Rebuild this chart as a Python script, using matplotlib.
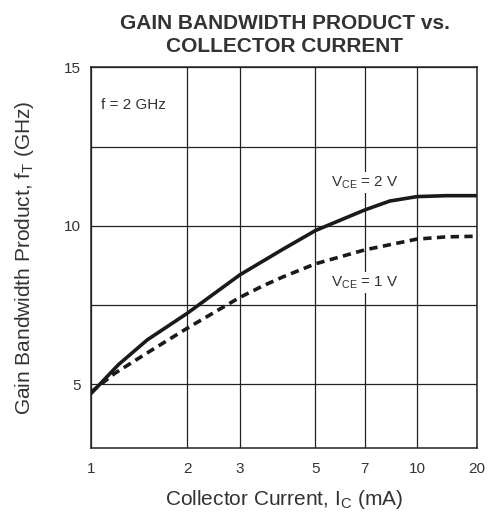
import numpy as np
import matplotlib
matplotlib.use('Agg')
import matplotlib.pyplot as plt

plt.rcParams['font.family'] = ['Liberation Sans', 'DejaVu Sans']
plt.rcParams['mathtext.fontset'] = 'custom'
plt.rcParams['mathtext.rm'] = 'Liberation Sans'

# ---- data ----
ic_2v = [1, 1.22, 1.5, 2, 3, 4, 5, 7, 8.3, 10, 14, 20]
ft_2v = [4.7, 5.62, 6.4, 7.24, 8.45, 9.25, 9.85, 10.5, 10.78, 10.92, 10.95, 10.95]

ic_1v = [1, 1.19, 1.55, 2, 3, 3.5, 4, 5, 7, 10, 14, 20]
ft_1v = [4.75, 5.35, 6.08, 6.77, 7.74, 8.1, 8.38, 8.8, 9.24, 9.58, 9.65, 9.67]

x_ticks = [1, 2, 3, 5, 7, 10, 20]
x_labels = ['1', '2', '3', '5', '7', '10', '20']
y_ticks = [5, 10, 15]

# the original axis is not a true log axis, tick spacing measured from the picture
x_pos = [0, 0.250, 0.386, 0.582, 0.710, 0.845, 1.0]
logt = np.log10(x_ticks)

def fwd(x):
    x = np.clip(np.asarray(x, dtype=float), 1e-6, None)
    return np.interp(np.log10(x), logt, x_pos)

def inv(p):
    return 10 ** np.interp(p, x_pos, logt)

txt = '#333333'
fig = plt.figure(figsize=(4.88, 5.12), dpi=100)
ax = fig.add_axes([0.186, 0.1256, 0.791, 0.743])
ax.set_xscale('function', functions=(fwd, inv))
ax.set_xlim(1, 20)
ax.set_ylim(3, 15)

ax.set_xticks(x_ticks)
ax.set_xticklabels(x_labels)
ax.set_xticks([], minor=True)
ax.set_yticks(y_ticks)
ax.set_yticks([7.5, 12.5], minor=True)
ax.tick_params(which='both', length=0, labelsize=11, colors=txt)
ax.tick_params(axis='x', pad=10)
ax.tick_params(axis='y', pad=7)
ax.grid(True, which='both', color='#222222', lw=0.9)
for s in ax.spines.values():
    s.set_color('#222222')
    s.set_linewidth(1.1)

ax.plot(ic_2v, ft_2v, color='#1a1a1a', lw=2.6, solid_capstyle='butt', zorder=3)
ax.plot(ic_1v, ft_1v, color='#1a1a1a', lw=2.6, dashes=(2.3, 1.5), zorder=3)

bb = dict(facecolor='white', edgecolor='none', pad=1.5)
ax.text(1.08, 13.8, 'f = 2 GHz', fontsize=11, color=txt, va='center', ha='left')
ax.text(7, 11.35, r'V$_{\mathrm{CE}}$ = 2 V', fontsize=11, color=txt,
        ha='center', va='center', bbox=bb, zorder=4)
ax.text(7, 8.2, r'V$_{\mathrm{CE}}$ = 1 V', fontsize=11, color=txt,
        ha='center', va='center', bbox=bb, zorder=4)

ax.set_xlabel(r'Collector Current, I$_{\mathrm{C}}$ (mA)', fontsize=15, color=txt, labelpad=9)
ax.set_ylabel(r'Gain Bandwidth Product, f$_{\mathrm{T}}$ (GHz)', fontsize=15, color=txt, labelpad=20)
fig.text(0.584, 0.931, 'GAIN BANDWIDTH PRODUCT vs.\nCOLLECTOR CURRENT', ha='center', va='center',
         fontsize=15, fontweight='bold', color=txt, linespacing=1.25)

fig.savefig('out.png', dpi=100)
